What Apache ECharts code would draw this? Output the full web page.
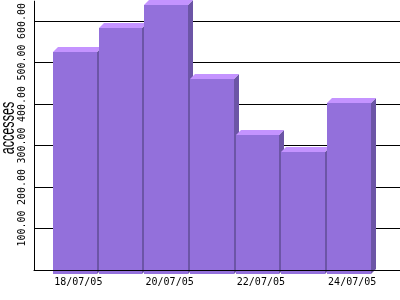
<!DOCTYPE html>
<html>
<head>
<meta charset="utf-8">
<script src="https://cdn.jsdelivr.net/npm/echarts@6/dist/echarts.min.js"></script>
<style>html,body{margin:0;padding:0;background:#fff}#c{width:400px;height:300px}</style>
</head>
<body>
<div id="c"></div>
<script>
const categories = ['18/07/05','19/07/05','20/07/05','21/07/05','22/07/05','23/07/05','24/07/05'];
const accesses = [535, 592, 648, 470, 335, 295, 412];
const yTicks = [0, 100, 200, 300, 400, 500, 600];
const yMax = 648;
const axisTitle = 'accesses';

const DX = 5, DY = 5;
const FRONT = '#9370DB', TOP = '#C493FF', SIDE = '#6C55A6';
const MONO = 'DejaVu Sans Mono';

const chart = echarts.init(document.getElementById('c'), null, {renderer: 'canvas'});
chart.setOption({
  animation: false,
  backgroundColor: '#fff',
  grid: [
    {left: 34, right: 0, top: 0, bottom: 30},
    {left: 52.5, width: 319.5, top: 0, bottom: 30}
  ],
  xAxis: [
    {gridIndex: 0, type: 'value', min: 0, max: 1, z: 10,
     axisLine: {show: true, lineStyle: {color: '#000', width: 1}},
     axisTick: {show: false}, axisLabel: {show: false}, splitLine: {show: false}},
    {gridIndex: 1, type: 'category', data: categories,
     axisLine: {show: false}, axisTick: {show: false}, splitLine: {show: false},
     axisLabel: {interval: 1, margin: 7, color: '#000', fontFamily: MONO, fontSize: 10, padding: [0, 0, 0, 6]}}
  ],
  yAxis: [
    {gridIndex: 0, type: 'value', min: yTicks[0], max: yMax, interval: 100,
     axisLine: {show: true, lineStyle: {color: '#000', width: 1}},
     axisTick: {show: false},
     axisLabel: {rotate: 90, margin: 7, color: '#000', fontFamily: MONO, fontSize: 10,
                 showMinLabel: false, showMaxLabel: false,
                 formatter: v => (yTicks.indexOf(v) >= 0 ? v.toFixed(2) : '')},
     splitLine: {show: true, showMaxLine: false, lineStyle: {color: '#000', width: 1}}},
    {gridIndex: 1, type: 'value', min: yTicks[0], max: yMax, show: false}
  ],
  graphic: [
    {type: 'text', x: 8, y: 128, rotation: Math.PI / 2, scaleX: 0.6, scaleY: 1,
     style: {text: axisTitle, fontSize: 21, fontFamily: 'Liberation Sans', fill: '#000',
             align: 'center', verticalAlign: 'middle'}}
  ],
  series: [{
    type: 'custom',
    xAxisIndex: 1, yAxisIndex: 1,
    data: accesses.map((v, i) => [i, v]),
    renderItem: function (params, api) {
      const idx = api.value(0), v = api.value(1);
      const c = api.coord([idx, v]);
      const b = api.coord([idx, 0]);
      const band = api.size([1, 0])[0];
      const fl = Math.round(c[0] - band / 2 + 0.5);
      const fr = Math.round(c[0] + band / 2 - 1.3);
      const fw = fr - fl;
      const ft = Math.round(c[1]) + DY, fb = Math.round(b[1]) + 4;
      return {
        type: 'group',
        children: [
          {type: 'polygon', shape: {points: [[fr, ft], [fr + DX, ft - DY], [fr + DX, fb - DY], [fr, fb]]},
           style: {fill: SIDE}},
          {type: 'polygon', shape: {points: [[fl, ft], [fl + DX, ft - DY], [fr + DX, ft - DY], [fr, ft]]},
           style: {fill: TOP}},
          {type: 'rect', shape: {x: fl, y: ft, width: fw, height: fb - ft}, style: {fill: FRONT}}
        ]
      };
    }
  }]
});
</script>
</body>
</html>
